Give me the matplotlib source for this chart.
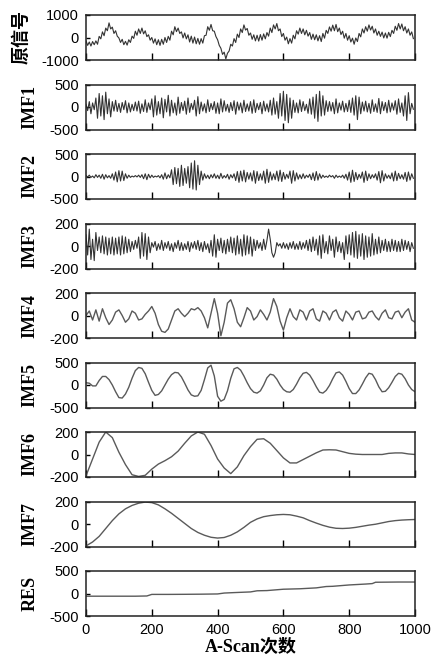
import numpy as np
import matplotlib
matplotlib.use("Agg")
import matplotlib.pyplot as plt

plt.rcParams["font.family"] = ["Liberation Sans", "DejaVu Sans"]
plt.rcParams["axes.unicode_minus"] = False

# values (x step 5 for the noisy ones)
orig = [-150, -350, -200, -380, -180, -320, -150, -300, 50, -60,
        250, 80, 420, 300, 650, 380, 460, 180, 300, 60,
        -20, -220, -80, -320, -170, -340, -100, -220, 60, -40,
        280, 100, 380, 180, 420, 160, 300, 40, 120, -120,
        0, -250, -60, -320, -100, -350, -80, -300, 0, -220,
        50, -120, 280, 120, 480, 260, 420, 180, 250, -20,
        200, -60, 120, -200, 60, -250, 20, -280, -40, -300,
        -50, -250, 80, 100, 480, 320, 580, 300, 280, 40,
        -100, -350, -480, -750, -650, -950, -700, -600, -300, -380,
        -50, -220, 150, 0, 380, 220, 560, 330, 400, 100,
        200, -80, 120, -150, 100, -160, 130, -120, 160, -60,
        220, 60, 420, 220, 560, 380, 620, 300, 380, 40,
        180, -120, 20, -280, -50, -250, 100, -60, 300, 150,
        420, 180, 380, 120, 320, 60, 220, -80, 150, -100,
        120, -150, 80, -180, 180, -30, 320, 180, 470, 280,
        550, 300, 580, 260, 420, 130, 280, -30, 180, -120,
        80, -200, -30, -300, -20, -180, 180, 30, 380, 200,
        480, 280, 560, 330, 500, 200, 380, 100, 280, 50,
        240, -20, 200, -30, 230, 40, 320, 180, 500, 320,
        620, 380, 600, 300, 480, 200, 380, 100, 250, -50]

imf1 = [60, -80, 120, -150, 90, -60, 200, -250, 300, -200,
        250, -280, 330, -150, 180, -220, 120, -90, 150, -100,
        80, -120, 100, -60, 140, -130, 90, -110, 60, -80,
        110, -90, 130, -140, 70, -100, 160, -120, 90, -60,
        180, -220, 250, -180, 120, -150, 200, -240, 170, -110,
        260, -200, 150, -130, 90, -180, 220, -140, 100, -80,
        130, -160, 200, -120, 80, -60, 150, -200, 230, -150,
        110, -90, 70, -130, 160, -100, 80, -60, 120, -140,
        90, -150, 180, -110, 140, -90, 60, -120, 100, -80,
        140, -160, 110, -70, 90, -130, 150, -100, 70, -90,
        120, -140, 160, -120, 80, -60, 100, -150, 130, -90,
        70, -110, 150, -180, 200, -160, 120, -250, 300, -200,
        350, -300, 280, -350, 200, -250, 150, -120, 90, -130,
        160, -100, 120, -80, 60, -140, 180, -160, 220, -250,
        280, -320, 350, -200, 250, -180, 140, -100, 120, -90,
        100, -150, 180, -130, 90, -70, 130, -110, 80, -100,
        150, -120, 200, -180, 250, -280, 220, -150, 110, -90,
        130, -110, 80, -140, 160, -100, 70, -120, 190, -150,
        120, -80, 100, -130, 150, -110, 90, -70, 140, -160,
        180, -120, 90, -200, 250, -300, 320, -150, 80, -50]

imf2 = [20, -10, 30, -20, 10, -30, 40, -20, 30, -40,
        50, -60, 40, -30, 20, -40, 60, -80, 100, -120,
        130, -100, 120, -90, 60, -40, 30, -20, 10, -10,
        20, -10, 30, -20, 40, -50, 60, -70, 50, -30,
        30, -20, 10, -10, 20, -30, 40, -60, 80, -50,
        40, -30, 150, -180, 200, -160, 180, -220, 250, -200,
        180, -150, 220, -250, 300, -280, 350, -300, 250, -180,
        120, -80, 60, -40, 30, -50, 40, -30, 60, -40,
        30, -50, 70, -40, 20, -30, 50, -60, 40, -30,
        60, -90, 110, -130, 120, -100, 140, -120, 90, -60,
        80, -100, 130, -150, 110, -90, 60, -80, 120, -150,
        160, -130, 100, -80, 60, -70, 120, -100, 140, -110,
        90, -60, 50, -40, 120, -150, 130, -100, 80, -60,
        40, -50, 60, -40, 30, -20, 50, -70, 80, -90,
        110, -80, 60, -40, 30, -20, 10, -20, 30, -10,
        20, -40, 30, -20, 10, -20, 30, -40, 50, -80,
        100, -130, 140, -110, 90, -70, 50, -40, 100, -130,
        120, -90, 60, -50, 40, -30, 60, -80, 110, -140,
        130, -100, 60, -40, 30, -50, 80, -100, 120, -90,
        70, -50, 40, -60, 90, -110, 100, -80, 60, -40]

imf3 = [100, -80, 150, -120, 60, -130, 120, -40, 80, -60,
        90, -70, 80, -80, 70, -70, 80, -80, 70, -70,
        80, -80, 90, -70, 80, -60, 60, -50, 40, -30,
        50, -20, 80, -110, 120, -90, 110, -120, 80, -60,
        30, -10, 40, -40, 20, -30, 50, -40, 30, -20,
        40, -40, 20, -50, 30, -20, 50, -40, 30, -40,
        20, -30, 40, -50, 30, -20, 40, -30, 50, -40,
        30, -50, 40, -30, 20, -60, 50, -90, 100, -100,
        60, -40, 70, -60, 50, -70, 60, -50, 80, -60,
        70, -80, 90, -70, 60, -90, 100, -80, 90, -70,
        80, -90, 60, -40, 50, -20, 30, -40, 60, -30,
        50, 150, 60, -60, -100, -60, 30, 0, 20, -20,
        30, -20, 20, -30, 30, -20, 40, -30, 20, -30,
        40, -30, 30, -20, 50, -40, 60, -50, 80, -40,
        60, -80, 90, -110, 100, -60, 40, -70, 90, -40,
        60, -100, 80, -50, 40, -60, 30, -120, 90, -70,
        100, -80, 120, -100, 130, -110, 100, -90, 110, -120,
        90, -100, 80, -90, 110, -80, 60, -70, 80, -60,
        50, -40, 60, -50, 40, -50, 60, -40, 50, -50,
        40, -50, 60, -40, 50, -30, 40, -50, 30, -20]

# step 10
imf4 = [0, 40, -40, 50, -50, 60, -20, -80, -40, 30,
        50, 0, -60, -30, 40, 20, -40, -30, 10, 40,
        80, 20, -80, -140, -150, -120, -40, 40, 60, 20,
        -10, 20, 60, 50, 70, 40, -20, -110, 20, 150,
        20, -180, -60, 110, 140, 60, -60, -100, -20, 70,
        40, -40, -10, 50, 10, -40, 30, 150, 80, -50,
        -130, -20, 60, -10, -40, 50, 30, -40, 40, 60,
        -30, -50, 40, 20, -40, 30, 50, -20, -50, 40,
        10, -40, 30, 40, -30, -20, 30, 40, -10, -40,
        20, 50, -20, -30, 30, 40, -20, 30, 60, -40,
        -60]

imf5 = [50, 40, -20, -20, 100, 190, 190, 120, 0, -150,
        -280, -290, -200, -50, 150, 320, 390, 370, 250, 60,
        -120, -230, -210, -130, 0, 130, 230, 280, 270, 180,
        40, -110, -220, -250, -240, -120, 120, 380, 440, 200,
        -250, -360, -320, -130, 150, 360, 390, 330, 200, 50,
        -80, -160, -180, -130, 0, 160, 240, 220, 130, 0,
        -100, -150, -160, -100, 20, 160, 260, 280, 220, 100,
        -40, -160, -180, -120, -10, 140, 270, 290, 220, 80,
        -80, -190, -190, -110, 20, 160, 260, 240, 120, -40,
        -150, -140, -60, 60, 190, 260, 240, 140, 0, -100,
        -150]

# step 20
imf6 = [-190, -40, 110, 200, 150, 20, -90, -180, -195, -185,
        -130, -85, -55, -20, 30, 100, 165, 200, 180, 80,
        -40, -120, -170, -110, -10, 70, 135, 140, 100, 35,
        -30, -75, -75, -45, -15, 15, 40, 42, 40, 25,
        10, 3, 0, 0, 0, 0, 10, 14, 14, 5,
        0]

imf7 = [-195, -160, -110, -40, 30, 90, 135, 165, 185, 195,
        190, 170, 135, 95, 50, 5, -40, -75, -100, -118,
        -125, -120, -100, -70, -30, 15, 45, 65, 75, 82,
        85, 82, 70, 55, 30, 8, -12, -28, -38, -40,
        -37, -30, -20, -10, -2, 10, 22, 30, 35, 38,
        40]

res_x = [0, 50, 100, 150, 185, 200, 250, 300, 350, 400, 420, 450, 500,
         520, 550, 600, 650, 700, 730, 750, 800, 850, 870, 880, 950, 1000]
res = [-60, -60, -60, -60, -55, -20, -20, -18, -15, -10, 10, 20, 35,
       60, 65, 95, 105, 125, 155, 160, 190, 210, 220, 250, 255, 255]

labels = ["原信号", "IMF1", "IMF2", "IMF3", "IMF4", "IMF5", "IMF6", "IMF7", "RES"]
limits = [1000, 500, 500, 200, 200, 500, 200, 200, 500]

series = []
for v in [orig, imf1, imf2, imf3]:
    series.append((np.arange(len(v)) * 5, v))
for v in [imf4, imf5, imf6, imf7]:
    series.append((np.linspace(0, 1000, len(v)), v))
series.append((res_x, res))

W, H = 443, 658
fig = plt.figure(figsize=(W / 100, H / 100), dpi=100)
serif = ["Liberation Serif", "Noto Sans CJK SC"]

for i in range(9):
    top = 15 + i * 69.5
    ax = fig.add_axes([86 / W, 1 - (top + 45) / H, 329 / W, 45 / H])
    x, y = series[i]
    if i < 4:
        ax.plot(x, y, color="#333333", lw=0.8)
    else:
        ax.plot(x, y, color="#5a5a5a", lw=1.0)
    lim = limits[i]
    ax.set_xlim(0, 1000)
    ax.set_ylim(-lim, lim)
    ax.set_yticks([-lim, 0, lim])
    ax.set_xticks([0, 200, 400, 600, 800, 1000])
    ax.tick_params(axis="x", direction="in", length=5, width=1, top=False,
                   pad=5, labelsize=10.5)
    ax.tick_params(axis="y", direction="in", length=3, width=1, right=False,
                   pad=5, labelsize=10.5)
    for s in ax.spines.values():
        s.set_linewidth(1.1)
        s.set_color("#222222")
    if i < 8:
        ax.tick_params(labelbottom=False)
    lx = -0.17 if i == 0 else -0.145
    ax.set_ylabel(labels[i], family=serif, fontweight="bold", fontsize=13)
    ax.yaxis.set_label_coords(lx, 0.5)
    if i == 8:
        ax.set_xlabel("A-Scan次数", family=serif, fontweight="bold",
                      fontsize=13, labelpad=1)

fig.savefig("out.png", dpi=100)
